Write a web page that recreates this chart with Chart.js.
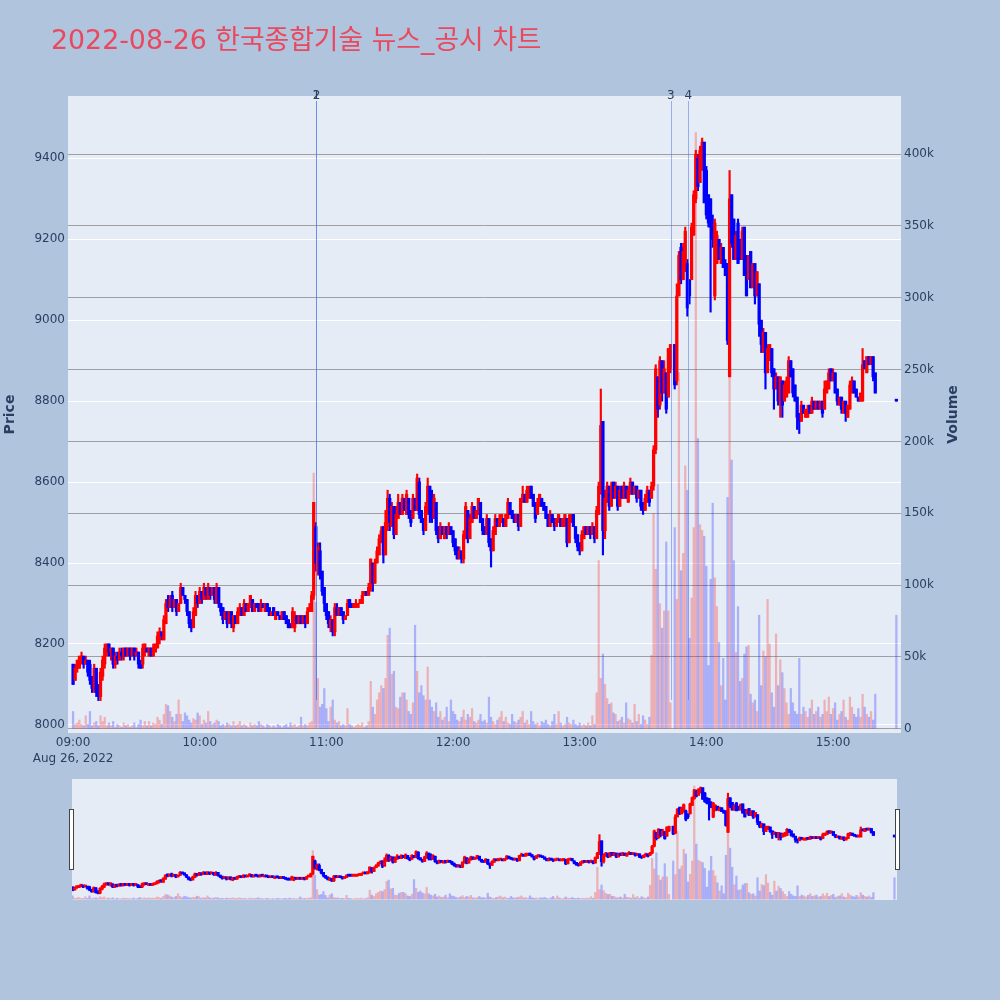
<!DOCTYPE html>
<html><head><meta charset="utf-8">
<script src="https://cdn.jsdelivr.net/npm/chart.js@4.4.0/dist/chart.umd.min.js"></script>
<style>
html,body{margin:0;padding:0;background:#b0c4de;}
#wrap{position:relative;width:1000px;height:1000px;background:#b0c4de;overflow:hidden}
#title{position:absolute;left:51px;top:25px;font-size:26.8px;line-height:30px;font-family:'DejaVu Sans','Noto Sans CJK KR',sans-serif;color:#e9495f;white-space:nowrap}
#main{position:absolute;left:0;top:0}
#slider{position:absolute;left:0;top:770px}
</style></head><body>
<div id="wrap">
<canvas id="main" width="1000" height="770"></canvas>
<canvas id="slider" width="1000" height="140"></canvas>
<div id="title">2022-08-26 한국종합기술 뉴스_공시 차트</div>
</div>
<script>
// minutes after 09:00 (1-minute candles 09:00-15:20, closing auction 15:30)
const times = [];
for (let m = 0; m <= 380; m++) times.push(m);
times.push(390);
const dateLabel = 'Aug 26, 2022';

const opens = [
8150,8110,8140,8140,8160,8170,8150,8160,8150,8110,
8090,8140,8090,8070,8120,8150,8180,8200,8180,8190,
8150,8170,8160,8180,8170,8190,8170,8190,8170,8190,
8170,8180,8150,8150,8180,8190,8170,8190,8170,8180,
8190,8210,8230,8210,8250,8310,8290,8320,8290,8310,
8280,8300,8340,8320,8310,8280,8260,8240,8270,8320,
8300,8330,8310,8340,8310,8340,8320,8340,8300,8340,
8300,8290,8260,8280,8250,8280,8240,8270,8250,8270,
8290,8270,8300,8280,8290,8310,8280,8300,8300,8280,
8300,8280,8300,8290,8270,8290,8260,8280,8270,8260,
8280,8270,8260,8250,8240,8240,8270,8250,8270,8250,
8270,8250,8280,8280,8320,8490,8390,8430,8380,8340,
8300,8280,8240,8260,8230,8290,8270,8290,8280,8260,
8270,8310,8300,8290,8290,8290,8300,8300,8320,8330,
8320,8340,8400,8350,8400,8420,8450,8490,8420,8490,
8560,8490,8540,8470,8510,8550,8520,8560,8520,8560,
8530,8510,8560,8530,8600,8530,8510,8480,8530,8590,
8560,8510,8550,8490,8460,8490,8460,8490,8470,8490,
8480,8460,8440,8410,8430,8410,8460,8530,8460,8500,
8540,8510,8520,8550,8510,8490,8470,8510,8460,8430,
8470,8510,8490,8500,8510,8490,8510,8550,8530,8520,
8500,8520,8490,8550,8570,8550,8560,8590,8570,8550,
8520,8540,8560,8550,8540,8520,8490,8520,8510,8490,
8500,8510,8490,8490,8510,8450,8500,8520,8490,8470,
8450,8430,8460,8490,8470,8490,8470,8490,8460,8520,
8580,8750,8480,8550,8590,8540,8600,8560,8590,8540,
8590,8560,8590,8550,8570,8600,8570,8590,8560,8580,
8550,8530,8550,8580,8560,8590,8680,8860,8790,8900,
8820,8870,8810,8880,null,8940,8850,9060,9180,9100,
9130,9140,9100,9100,9210,9300,9400,9340,9380,9440,
9370,9310,9300,9240,9060,9140,9200,9140,9180,9140,
9140,8860,9310,9250,9150,9240,9200,9150,9230,9160,
9100,9170,9080,9140,9060,9090,9000,8920,8970,8870,
8900,8930,8880,8830,8860,8800,8850,8800,8810,8820,
8900,8880,8840,8810,8770,8750,8790,8760,8760,8790,
8770,8800,8780,8800,8780,8800,8780,8820,8830,8880,
8850,8870,8830,8790,8810,8770,8800,8760,8780,8820,
8850,8830,8810,8800,8800,8900,8870,8910,8890,8910,
8870,
8800];

const highs = [
8150,8150,8160,8170,8180,8170,8170,8160,8160,8120,
8150,8140,8100,8140,8170,8200,8200,8200,8190,8190,
8180,8180,8190,8190,8190,8190,8190,8190,8190,8190,
8190,8180,8160,8200,8200,8190,8190,8190,8200,8200,
8230,8240,8230,8270,8310,8320,8320,8330,8310,8310,
8300,8350,8340,8320,8310,8280,8260,8290,8330,8320,
8340,8330,8350,8340,8350,8340,8340,8340,8350,8340,
8300,8290,8280,8280,8280,8280,8270,8270,8290,8300,
8290,8310,8300,8300,8320,8310,8300,8300,8300,8310,
8300,8300,8300,8290,8280,8290,8280,8280,8270,8280,
8280,8270,8260,8250,8290,8280,8270,8270,8270,8270,
8270,8290,8300,8330,8550,8500,8450,8450,8380,8340,
8300,8280,8270,8260,8300,8300,8290,8290,8280,8270,
8310,8310,8300,8300,8310,8300,8310,8330,8330,8330,
8350,8410,8400,8410,8440,8470,8490,8490,8530,8580,
8570,8550,8540,8540,8570,8550,8570,8560,8580,8560,
8530,8570,8560,8620,8610,8530,8510,8550,8610,8590,
8580,8570,8550,8490,8500,8490,8490,8490,8500,8490,
8480,8460,8440,8440,8430,8480,8550,8530,8520,8550,
8540,8530,8560,8550,8510,8490,8520,8510,8460,8490,
8520,8510,8520,8520,8510,8520,8560,8550,8530,8520,
8520,8520,8560,8590,8570,8590,8590,8590,8570,8550,
8560,8570,8560,8550,8540,8520,8530,8520,8510,8510,
8520,8510,8510,8520,8510,8520,8520,8520,8490,8470,
8450,8480,8490,8490,8490,8490,8500,8490,8540,8600,
8830,8750,8580,8600,8590,8600,8600,8600,8590,8590,
8590,8600,8590,8590,8610,8600,8590,8590,8580,8580,
8550,8570,8590,8580,8600,8690,8890,8860,8910,8900,
8900,8870,8930,8940,null,8940,9090,9170,9190,9190,
9230,9150,9100,9240,9320,9420,9410,9430,9450,9440,
9380,9310,9300,9260,9250,9220,9200,9190,9180,9150,
9140,9370,9310,9250,9220,9250,9200,9230,9230,9160,
9160,9170,9140,9140,9120,9090,9000,8980,8970,8940,
8940,8930,8880,8870,8860,8860,8850,8850,8860,8910,
8900,8880,8840,8810,8770,8800,8790,8780,8790,8790,
8810,8800,8800,8800,8800,8800,8850,8850,8880,8880,
8880,8870,8830,8810,8810,8800,8800,8790,8850,8860,
8850,8830,8810,8820,8930,8900,8910,8910,8910,8910,
8870,
8800];

const lows = [
8100,8110,8130,8140,8150,8140,8150,8120,8100,8080,
8080,8070,8060,8060,8110,8140,8170,8170,8160,8140,
8140,8150,8160,8160,8160,8170,8170,8160,8170,8160,
8170,8140,8140,8140,8170,8180,8170,8170,8170,8180,
8190,8200,8210,8210,8250,8280,8290,8280,8290,8270,
8280,8300,8320,8300,8270,8240,8230,8240,8270,8290,
8300,8300,8310,8310,8310,8310,8320,8300,8300,8290,
8270,8250,8260,8240,8250,8240,8230,8250,8250,8270,
8270,8270,8280,8280,8290,8280,8280,8290,8280,8280,
8290,8280,8280,8270,8270,8270,8260,8270,8260,8260,
8260,8250,8240,8240,8240,8230,8250,8250,8250,8250,
8240,8250,8280,8280,8310,8380,8370,8360,8320,8280,
8260,8240,8230,8220,8220,8270,8270,8270,8250,8260,
8270,8290,8290,8290,8290,8290,8300,8300,8320,8320,
8320,8330,8330,8350,8400,8420,8450,8400,8420,8480,
8480,8490,8460,8470,8510,8520,8520,8530,8520,8510,
8490,8510,8530,8530,8510,8500,8470,8480,8520,8500,
8500,8510,8470,8450,8460,8470,8460,8460,8470,8470,
8440,8420,8410,8410,8400,8400,8460,8450,8460,8500,
8510,8510,8520,8500,8470,8470,8470,8440,8390,8430,
8470,8490,8490,8500,8490,8490,8510,8520,8510,8500,
8500,8480,8490,8550,8550,8550,8560,8560,8540,8500,
8520,8540,8540,8530,8510,8490,8490,8500,8480,8490,
8500,8490,8490,8490,8440,8450,8500,8490,8450,8430,
8420,8430,8460,8470,8470,8460,8470,8450,8460,8520,
8570,8420,8460,8550,8530,8540,8560,8560,8530,8540,
8560,8560,8560,8550,8570,8570,8570,8550,8560,8530,
8520,8530,8550,8540,8560,8580,8670,8760,8780,8800,
8820,8770,8810,8870,null,8830,8840,9060,9090,9100,
9120,9010,9040,9100,9210,9290,9320,9340,9370,9290,
9250,9230,9020,9180,9050,9140,9150,9140,9130,9110,
8940,8860,9180,9150,9150,9140,9150,9150,9110,9060,
9100,9080,9080,9040,9060,8960,8920,8920,8830,8870,
8900,8860,8780,8830,8790,8760,8760,8800,8810,8820,
8860,8810,8800,8730,8720,8750,8770,8760,8760,8770,
8770,8780,8780,8780,8780,8760,8780,8820,8830,8850,
8850,8820,8790,8790,8770,8770,8750,8760,8780,8820,
8820,8810,8800,8800,8800,8880,8870,8890,8890,8850,
8820,
8800];

const closes = [
8100,8140,8160,8170,8170,8150,8160,8130,8110,8090,
8140,8080,8070,8130,8160,8190,8200,8180,8190,8150,
8170,8160,8180,8170,8190,8170,8190,8170,8190,8170,
8180,8150,8140,8190,8200,8180,8190,8170,8190,8200,
8220,8230,8220,8260,8300,8290,8310,8290,8310,8280,
8300,8340,8320,8310,8280,8250,8240,8280,8320,8300,
8330,8310,8340,8320,8340,8320,8340,8310,8340,8300,
8280,8260,8280,8250,8280,8250,8270,8250,8280,8290,
8270,8300,8280,8300,8320,8280,8300,8290,8280,8300,
8290,8300,8280,8270,8280,8270,8280,8270,8260,8280,
8260,8250,8240,8240,8280,8270,8250,8270,8250,8270,
8250,8280,8290,8320,8550,8400,8440,8370,8330,8300,
8270,8250,8260,8230,8290,8270,8290,8270,8260,8270,
8300,8290,8290,8300,8300,8300,8310,8320,8330,8320,
8340,8410,8350,8400,8430,8460,8480,8420,8500,8560,
8500,8540,8470,8520,8550,8520,8560,8530,8570,8520,
8500,8560,8530,8610,8520,8500,8480,8540,8590,8520,
8510,8560,8480,8460,8490,8470,8490,8470,8490,8470,
8450,8430,8410,8430,8410,8470,8540,8460,8510,8540,
8510,8530,8560,8500,8480,8470,8510,8450,8430,8480,
8510,8490,8510,8520,8490,8520,8550,8520,8510,8500,
8520,8490,8560,8570,8550,8580,8580,8560,8540,8510,
8550,8570,8540,8530,8510,8490,8520,8500,8490,8510,
8520,8490,8510,8520,8450,8510,8520,8490,8460,8440,
8430,8470,8490,8470,8490,8470,8490,8460,8530,8590,
8740,8480,8560,8590,8540,8590,8560,8590,8540,8580,
8560,8590,8560,8580,8600,8570,8590,8560,8580,8540,
8530,8560,8580,8550,8590,8680,8880,8780,8900,8820,
8880,8780,8930,8940,null,8840,9060,9160,9100,9170,
9220,9030,9060,9230,9310,9410,9330,9420,9440,9290,
9260,9240,9230,9200,9240,9210,9150,9180,9130,9110,
8950,9300,9190,9150,9210,9140,9150,9220,9110,9060,
9160,9080,9140,9060,9120,8990,8940,8970,8870,8930,
8940,8870,8830,8860,8800,8860,8790,8840,8850,8900,
8860,8820,8800,8760,8750,8790,8770,8780,8780,8770,
8800,8780,8800,8780,8800,8770,8830,8850,8870,8850,
8870,8820,8800,8810,8780,8800,8770,8790,8840,8850,
8820,8810,8800,8820,8890,8880,8910,8890,8910,8860,
8820,
8800];

// volume in thousands of shares
const volumes = [
12,3,4,6,3,2,9,3,12,2,
4,5,2,9,5,8,2,4,2,5,
1,3,2,1,4,2,3,1,2,4,
1,3,6,2,5,2,5,2,4,3,
8,6,3,10,17,16,12,8,5,10,
20,10,5,11,9,6,4,7,6,11,
9,3,6,4,12,5,3,4,6,5,
2,3,2,4,3,2,5,2,3,5,
2,3,2,1,4,2,3,2,5,3,
2,1,3,2,1,2,1,3,2,1,
2,3,1,4,2,3,1,2,8,2,
3,2,4,5,178,88,35,15,17,28,
14,5,15,20,6,4,5,2,3,2,
14,3,2,1,2,3,2,4,1,2,
5,33,15,10,20,25,30,28,35,65,
70,38,40,15,14,22,25,25,20,12,
10,18,72,40,25,30,23,20,43,20,
15,12,18,8,12,6,8,15,5,20,
12,10,6,5,8,13,6,10,8,14,
5,4,6,10,5,6,4,22,8,5,
3,6,8,12,5,8,4,3,10,5,
4,6,8,12,4,6,3,12,5,3,
4,2,5,4,6,3,2,5,10,3,
12,4,2,3,8,4,3,6,3,2,
4,2,3,2,4,2,9,3,25,117,
35,52,31,21,17,18,11,10,5,6,
8,4,18,7,6,4,17,5,10,3,
9,6,3,8,51,150,111,170,87,70,
82,130,82,18,null,140,90,248,110,122,
183,166,63,91,140,415,202,142,138,134,
113,44,104,157,105,85,60,30,49,20,
161,244,187,117,53,85,33,35,52,57,
58,24,18,20,12,79,30,54,50,90,
59,25,15,66,30,48,39,28,18,10,
28,18,12,10,49,10,15,12,8,14,
20,10,12,15,8,10,20,12,22,10,
14,18,6,10,12,20,8,6,22,15,
10,8,14,8,24,15,10,8,12,6,
24,
79];

// news / disclosure markers (minutes after 09:00)
const newsTimes = [115.2, 115.3, 283.2, 291.4];
const newsLabels = ['1', '2', '3', '4'];

// axis ticks
const timeTicks = [0, 60, 120, 180, 240, 300, 360];
const priceTicks = [8000, 8200, 8400, 8600, 8800, 9000, 9200, 9400];
const volTicks = [0, 50, 100, 150, 200, 250, 300, 350, 400];
const priceRange = [7980, 9554];
const volRange = [-3, 440.5];

Chart.defaults.font.family = "'DejaVu Sans', sans-serif";

function buildDatasets() {
  const vol = [], volC = [], wick = [], body = [], cc = [];
  times.forEach((t, i) => {
    if (opens[i] === null) return;
    const up = closes[i] > opens[i];
    wick.push({x: t, y: [lows[i], highs[i]]});
    body.push({x: t, y: [opens[i], closes[i]]});
    cc.push(up ? '#ff0000' : '#0000ff');
    vol.push({x: t, y: volumes[i]});
    volC.push(up ? 'rgba(255,0,0,0.25)' : 'rgba(0,0,255,0.25)');
  });
  return [
    {label: 'body', data: body, yAxisID: 'y', backgroundColor: cc, barThickness: 2.6, minBarLength: 2, grouped: false, order: 1},
    {label: 'wick', data: wick, yAxisID: 'y', backgroundColor: cc, barThickness: 1.5, grouped: false, order: 2},
    {label: 'volume', data: vol, yAxisID: 'yv', backgroundColor: volC, barThickness: 1.6, grouped: false, order: 3}
  ];
}

function hhmm(v) {
  const h = 9 + Math.floor(v / 60), m = v % 60;
  return String(h).padStart(2, '0') + ':' + String(m).padStart(2, '0');
}
const setTicks = vals => s => { s.ticks = vals.map(v => ({value: v})); };

const tickFont = {family: "'DejaVu Sans', sans-serif", size: 12};
const tickColor = '#2a3f5f';

const mainDeco = {
  id: 'mainDeco',
  beforeDraw(c) {
    const {ctx, chartArea: a} = c;
    ctx.save();
    ctx.fillStyle = '#e5ecf6';
    ctx.fillRect(a.left, a.top, a.right - a.left, a.bottom - a.top);
    ctx.restore();
  },
  afterDatasetsDraw(c) {
    const {ctx, chartArea: a, scales} = c;
    const xs = scales.x, yv = scales.yv;
    ctx.save();
    ctx.strokeStyle = 'rgba(70,110,235,0.5)';
    ctx.lineWidth = 1;
    newsTimes.forEach(t => {
      const px = Math.round(xs.getPixelForValue(t)) + 0.5;
      ctx.beginPath();
      ctx.moveTo(px, a.top + 5);
      ctx.lineTo(px, yv.getPixelForValue(20));
      ctx.stroke();
    });
    ctx.fillStyle = '#2a3f5f';
    ctx.font = "12px 'DejaVu Sans'";
    ctx.textAlign = 'center';
    ctx.textBaseline = 'middle';
    newsTimes.forEach((t, k) => ctx.fillText(newsLabels[k], xs.getPixelForValue(t), a.top));
    ctx.font = "bold 14px 'DejaVu Sans'";
    const mid = (a.top + a.bottom) / 2;
    ctx.save(); ctx.translate(10, mid); ctx.rotate(-Math.PI / 2); ctx.fillText('Price', 0, 0); ctx.restore();
    ctx.save(); ctx.translate(953.5, mid); ctx.rotate(-Math.PI / 2); ctx.fillText('Volume', 0, 0); ctx.restore();
    ctx.restore();
  }
};

new Chart(document.getElementById('main'), {
  type: 'bar',
  data: {datasets: buildDatasets()},
  options: {
    responsive: false, animation: false, events: [],
    layout: {padding: {left: 0, right: 0, top: 96, bottom: 0}},
    plugins: {legend: {display: false}, tooltip: {enabled: false}},
    scales: {
      x: {
        type: 'linear', min: -2.4, max: 392.2, offset: false,
        grid: {display: false, offset: false, drawTicks: false}, border: {display: false},
        afterBuildTicks: setTicks(timeTicks),
        ticks: {autoSkip: false, maxRotation: 0, padding: 1,
          color: tickColor, font: {family: "'DejaVu Sans', sans-serif", size: 12, lineHeight: 1.4},
          callback: v => v === 0 ? [hhmm(v), dateLabel] : hhmm(v)},
        afterFit: s => { s.height = 37; }
      },
      y: {
        type: 'linear', position: 'left', min: priceRange[0], max: priceRange[1],
        grid: {color: '#ffffff', lineWidth: 1, drawTicks: false}, border: {display: false},
        afterBuildTicks: setTicks(priceTicks),
        ticks: {autoSkip: false, padding: 3, color: tickColor, font: tickFont, callback: v => String(v)},
        afterFit: s => { s.width = 68; }
      },
      yv: {
        type: 'linear', position: 'right', min: volRange[0], max: volRange[1],
        grid: {color: 'rgba(128,128,128,0.7)', lineWidth: 1, drawTicks: false}, border: {display: false},
        afterBuildTicks: setTicks(volTicks),
        ticks: {autoSkip: false, padding: 3, color: tickColor, font: tickFont,
          callback: v => v === 0 ? '0' : v + 'k'},
        afterFit: s => { s.width = 99; }
      }
    }
  },
  plugins: [mainDeco]
});

const sliderDeco = {
  id: 'sliderDeco',
  beforeDraw(c) {
    const {ctx, chartArea: a} = c;
    ctx.save();
    ctx.fillStyle = '#e5ecf6';
    ctx.fillRect(a.left, a.top, a.right - a.left, a.bottom - a.top);
    ctx.restore();
  },
  afterDraw(c) {
    const {ctx, chartArea: a} = c;
    const mid = (a.top + a.bottom) / 2;
    ctx.save();
    ctx.fillStyle = '#ffffff';
    ctx.strokeStyle = '#444444';
    ctx.lineWidth = 1;
    [a.left - 2.5, a.right - 1.5].forEach(x => {
      ctx.fillRect(x, mid - 30, 4, 60);
      ctx.strokeRect(x, mid - 30, 4, 60);
    });
    ctx.restore();
  }
};

new Chart(document.getElementById('slider'), {
  type: 'bar',
  data: {datasets: buildDatasets()},
  options: {
    responsive: false, animation: false, events: [],
    layout: {padding: {left: 72, right: 103, top: 9, bottom: 10}},
    plugins: {legend: {display: false}, tooltip: {enabled: false}},
    scales: {
      x: {type: 'linear', display: false, min: -0.3, max: 391.2, offset: false, grid: {offset: false}},
      y: {type: 'linear', display: false, min: priceRange[0], max: priceRange[1]},
      yv: {type: 'linear', display: false, min: volRange[0], max: volRange[1]}
    }
  },
  plugins: [sliderDeco]
});
</script>
</body></html>
